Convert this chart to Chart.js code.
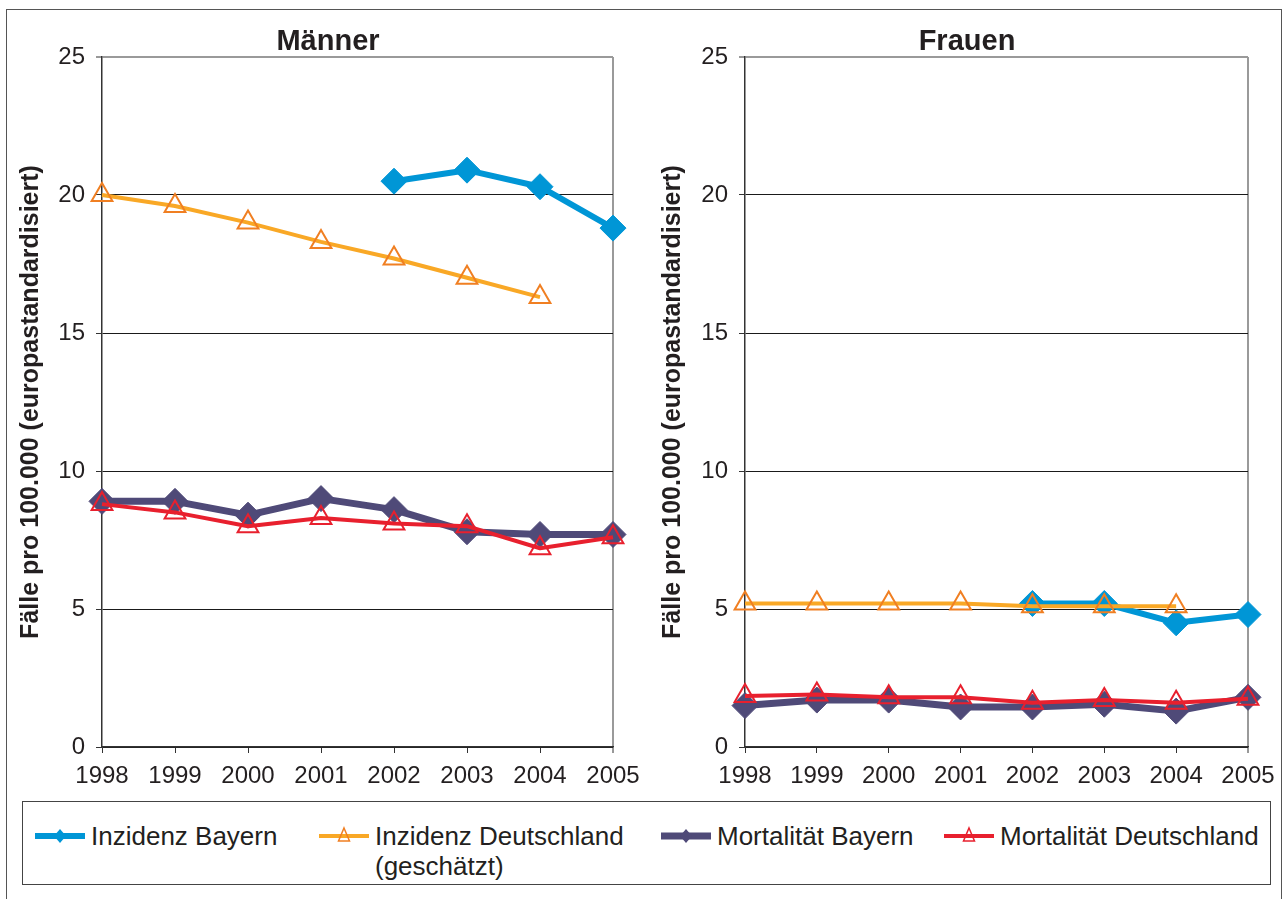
<!DOCTYPE html>
<html>
<head>
<meta charset="utf-8">
<script src="https://cdn.jsdelivr.net/npm/chart.js@4.4.1/dist/chart.umd.min.js"></script>
<style>
  html, body { margin: 0; padding: 0; background: #fff; }
  body { width: 1286px; height: 899px; position: relative; overflow: hidden; font-family: "Liberation Sans", Arial, sans-serif; }
  #frame { position: absolute; left: 6px; top: 9px; width: 1276px; height: 900px; border: 1px solid #555; box-sizing: border-box; }
  #c1 { position: absolute; left: 0; top: 0; }
  #c2 { position: absolute; left: 640px; top: 0; }
  #legend { position: absolute; left: 22px; top: 801px; width: 1249px; height: 84px; border: 1px solid #444; box-sizing: border-box; }
  .item { position: absolute; top: 19px; font-size: 26px; line-height: 30px; color: #231f20; }
  .item svg { position: absolute; top: 0; }
  .item span { position: absolute; white-space: nowrap; }
</style>
</head>
<body>
<div id="frame"></div>
<canvas id="c1" width="656" height="800"></canvas>
<canvas id="c2" width="654" height="800"></canvas>
<div id="legend">
  <div class="item" style="left:12px;">
    <svg width="52" height="30"><line x1="0" y1="15" x2="50" y2="15" stroke="#0096d6" stroke-width="6"/><polygon points="25,8 31,15 25,22 19,15" fill="#0096d6"/></svg>
    <span style="left:56px;top:0;">Inzidenz Bayern</span>
  </div>
  <div class="item" style="left:296px;">
    <svg width="52" height="30"><line x1="0" y1="15" x2="50" y2="15" stroke="#f9a826" stroke-width="4"/><polygon points="25,7 30.5,20 19.5,20" fill="none" stroke="#f07f22" stroke-width="1.5"/></svg>
    <span style="left:56px;top:0;">Inzidenz Deutschland</span>
    <span style="left:56px;top:30px;">(geschätzt)</span>
  </div>
  <div class="item" style="left:638px;">
    <svg width="52" height="30"><line x1="0" y1="15" x2="50" y2="15" stroke="#4f4a78" stroke-width="7"/><polygon points="25,8 31,15 25,22 19,15" fill="#4f4a78"/></svg>
    <span style="left:56px;top:0;">Mortalität Bayern</span>
  </div>
  <div class="item" style="left:921px;">
    <svg width="52" height="30"><line x1="0" y1="15" x2="50" y2="15" stroke="#e8202e" stroke-width="4"/><polygon points="25,7 30.5,20 19.5,20" fill="none" stroke="#e8202e" stroke-width="1.5"/></svg>
    <span style="left:56px;top:0;">Mortalität Deutschland</span>
  </div>
</div>
<script>
// ---- data ----
const years = ['1998', '1999', '2000', '2001', '2002', '2003', '2004', '2005'];
const yMin = 0, yMax = 25, yStep = 5;
const seriesNames = ['Inzidenz Bayern', 'Inzidenz Deutschland (geschätzt)', 'Mortalität Bayern', 'Mortalität Deutschland'];
const yTitle = 'Fälle pro 100.000 (europastandardisiert)';

const menInzidenzBayern       = [null, null, null, null, 20.5, 20.9, 20.3, 18.8];
const menInzidenzDeutschland  = [20.0, 19.6, 19.0, 18.3, 17.7, 17.0, 16.3, null];
const menMortalitaetBayern    = [8.9, 8.9, 8.4, 9.0, 8.6, 7.8, 7.7, 7.7];
const menMortalitaetDeutschland = [8.8, 8.5, 8.0, 8.3, 8.1, 8.0, 7.2, 7.6];

const womenInzidenzBayern       = [null, null, null, null, 5.2, 5.2, 4.5, 4.8];
const womenInzidenzDeutschland  = [5.2, 5.2, 5.2, 5.2, 5.1, 5.1, 5.1, null];
const womenMortalitaetBayern    = [1.5, 1.7, 1.7, 1.45, 1.45, 1.55, 1.3, 1.8];
const womenMortalitaetDeutschland = [1.85, 1.9, 1.8, 1.8, 1.6, 1.7, 1.6, 1.75];

// ---- styling ----
const FONT = '"Liberation Sans", Arial, sans-serif';
const BLUE = '#0096d6', ORANGE_LINE = '#f9a826', ORANGE_MARK = '#f07f22', PURPLE = '#4f4a78', RED = '#e8202e';

function makeDatasets(inzB, inzD, mortB, mortD) {
  return [
    { label: seriesNames[0], data: inzB, borderColor: BLUE, backgroundColor: BLUE, borderWidth: 6,
      pointStyle: 'rectRot', pointRadius: 13, pointBackgroundColor: BLUE, pointBorderColor: BLUE, pointBorderWidth: 1, order: 3 },
    { label: seriesNames[1], data: inzD, borderColor: ORANGE_LINE, backgroundColor: ORANGE_LINE, borderWidth: 4,
      pointStyle: 'triangle', pointRadius: 12, pointBackgroundColor: 'rgba(0,0,0,0)', pointBorderColor: ORANGE_MARK, pointBorderWidth: 2, order: 1 },
    { label: seriesNames[2], data: mortB, borderColor: PURPLE, backgroundColor: PURPLE, borderWidth: 7,
      pointStyle: 'rectRot', pointRadius: 13, pointBackgroundColor: PURPLE, pointBorderColor: PURPLE, pointBorderWidth: 1, order: 2 },
    { label: seriesNames[3], data: mortD, borderColor: RED, backgroundColor: RED, borderWidth: 4,
      pointStyle: 'triangle', pointRadius: 12, pointBackgroundColor: 'rgba(0,0,0,0)', pointBorderColor: RED, pointBorderWidth: 2, order: 0 }
  ];
}

function makeOptions(title, yWidth, titlePad, rightSpace) {
  return {
    responsive: false,
    animation: false,
    events: [],
    layout: { padding: 0 },
    elements: { line: { tension: 0, borderJoinStyle: 'round' } },
    plugins: {
      legend: { display: false },
      tooltip: { enabled: false },
      title: { display: true, text: title, color: '#231f20',
               font: { family: FONT, size: 29, weight: 'bold', lineHeight: 1 },
               padding: { top: 27, bottom: 1 } }
    },
    scales: {
      x: {
        type: 'category',
        offset: false,
        afterFit: (s) => { s.height = 53; },
        grid: {
          drawOnChartArea: true,
          color: (ctx) => ctx.index === years.length - 1 ? '#9a9a9a' : 'rgba(0,0,0,0)',
          lineWidth: (ctx) => ctx.index === years.length - 1 ? 2 : 1,
          tickColor: '#333', tickLength: 6, tickWidth: 1
        },
        border: { display: true, color: '#333', width: 1.5 },
        ticks: { color: '#231f20', font: { family: FONT, size: 24 }, padding: 9, maxRotation: 0, autoSkip: false }
      },
      y: {
        min: yMin, max: yMax,
        afterFit: (s) => { s.width = yWidth; },
        grid: {
          color: (ctx) => ctx.tick.value === yMax ? '#9a9a9a' : '#1a1a1a',
          lineWidth: (ctx) => ctx.tick.value === yMax ? 2 : 1,
          tickColor: '#333', tickLength: 6, tickWidth: 1
        },
        border: { display: true, color: '#333', width: 1.5 },
        ticks: { stepSize: yStep, color: '#231f20', font: { family: FONT, size: 24 }, padding: 11 },
        title: { display: true, text: yTitle, color: '#231f20',
                 font: { family: FONT, size: 25, weight: 'bold' }, padding: { top: titlePad, bottom: 0 } }
      },
      // invisible spacer on the right so the chart title centres over the full panel
      spacer: {
        type: 'linear', position: 'right', display: true,
        afterFit: (s) => { s.width = rightSpace; },
        grid: { display: false, drawTicks: false },
        border: { display: false },
        ticks: { display: false }
      }
    }
  };
}

new Chart(document.getElementById('c1'), {
  type: 'line',
  data: { labels: years, datasets: makeDatasets(menInzidenzBayern, menInzidenzDeutschland, menMortalitaetBayern, menMortalitaetDeutschland) },
  options: makeOptions('Männer', 102, 16, 43)
});

new Chart(document.getElementById('c2'), {
  type: 'line',
  data: { labels: years, datasets: makeDatasets(womenInzidenzBayern, womenInzidenzDeutschland, womenMortalitaetBayern, womenMortalitaetDeutschland) },
  options: makeOptions('Frauen', 105, 18, 46)
});
</script>
</body>
</html>
